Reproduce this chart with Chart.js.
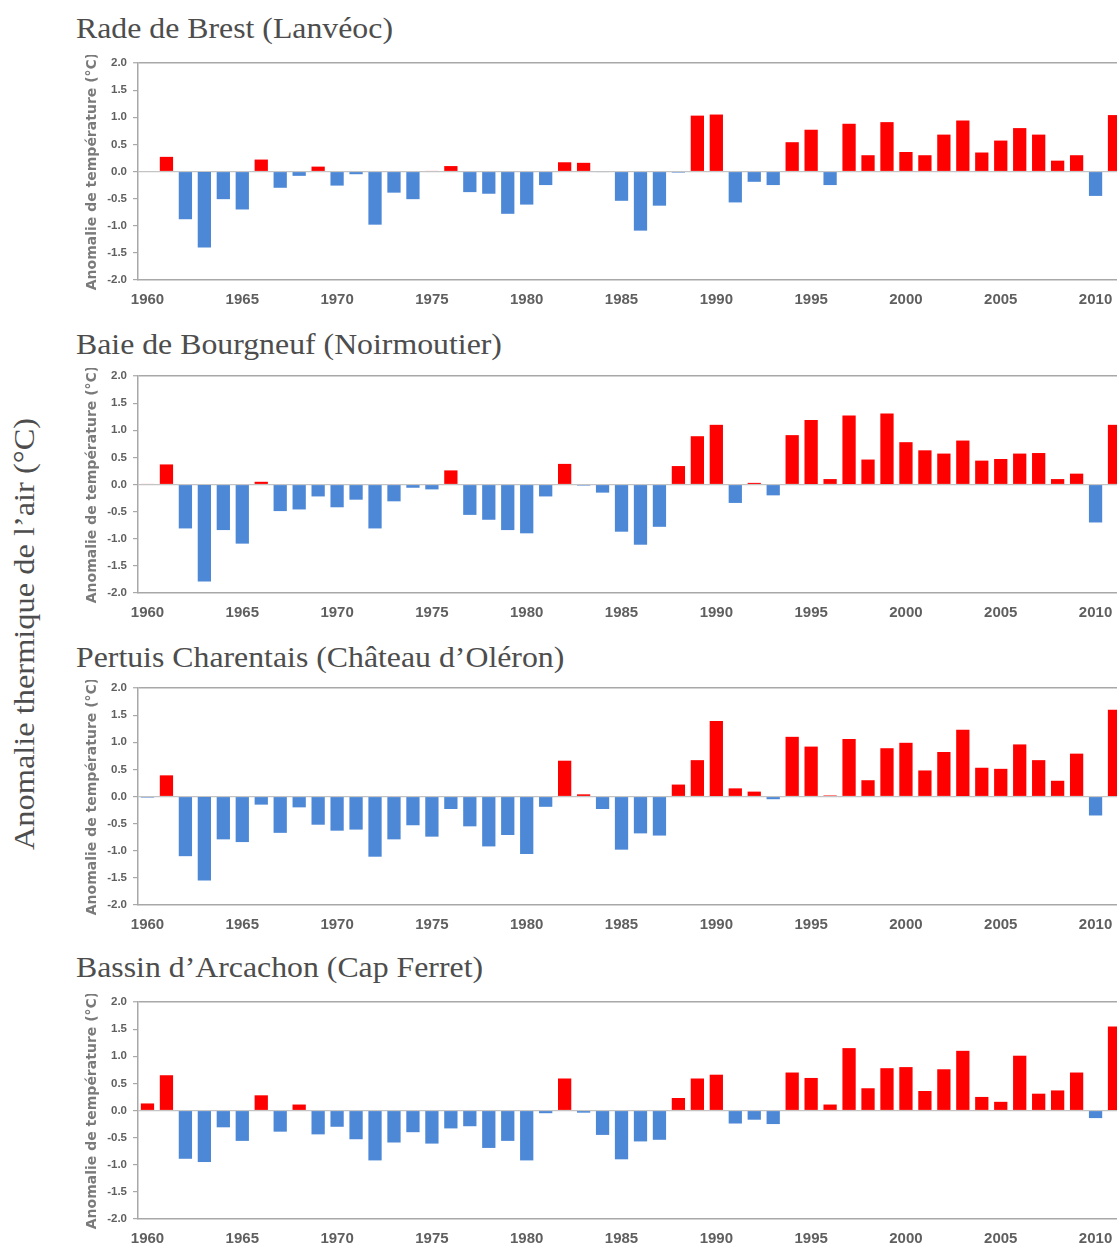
<!DOCTYPE html>
<html>
<head>
<meta charset="utf-8">
<script src="https://cdn.jsdelivr.net/npm/chart.js@4.4.1/dist/chart.umd.min.js"></script>
<style>
  html, body { margin: 0; padding: 0; background: #fff; }
  body { width: 1117px; height: 1245px; overflow: hidden; position: relative; }
  .title { position: absolute; left: 76px; font-family: "Liberation Serif", serif; font-size: 30px; color: #4d4d4d; white-space: nowrap; line-height: 34px; transform: scaleX(1.06); transform-origin: left center; }
  .panel { position: absolute; left: 80px; width: 1050px; height: 255px; }
  #bigLabel { position: absolute; left: 24px; top: 634px; transform: translate(-50%, -50%) rotate(-90deg) scaleX(1.08); font-family: "Liberation Serif", serif; font-size: 30px; color: #4d4d4d; white-space: nowrap; }
</style>
</head>
<body>
<div id="bigLabel">Anomalie thermique de l’air (°C)</div>
<div class="title" style="top:11px">Rade de Brest (Lanvéoc)</div>
<div class="title" style="top:327px">Baie de Bourgneuf (Noirmoutier)</div>
<div class="title" style="top:640px">Pertuis Charentais (Château d’Oléron)</div>
<div class="title" style="top:950px">Bassin d’Arcachon (Cap Ferret)</div>
<div class="panel" style="top:55px"><canvas id="c1"></canvas></div>
<div class="panel" style="top:368px"><canvas id="c2"></canvas></div>
<div class="panel" style="top:680px"><canvas id="c3"></canvas></div>
<div class="panel" style="top:994px"><canvas id="c4"></canvas></div>
<script>
  // années 1960 - 2011
  const years = [];
  for (let y = 1960; y <= 2011; y++) years.push(String(y));

  const yTicks = [-2.0, -1.5, -1.0, -0.5, 0.0, 0.5, 1.0, 1.5, 2.0];

  // Rade de Brest (Lanvéoc)
  const brest = [0.00, 0.27, -0.88, -1.40, -0.51, -0.70, 0.22, -0.30, -0.08, 0.09,
    -0.26, -0.05, -0.98, -0.39, -0.51, 0.01, 0.10, -0.38, -0.41, -0.78,
    -0.61, -0.25, 0.17, 0.16, -0.01, -0.54, -1.09, -0.63, -0.02, 1.03,
    1.05, -0.57, -0.19, -0.25, 0.54, 0.77, -0.25, 0.88, 0.30, 0.91,
    0.36, 0.30, 0.68, 0.94, 0.35, 0.57, 0.80, 0.68, 0.20, 0.30,
    -0.45, 1.04];

  // Baie de Bourgneuf (Noirmoutier)
  const bourgneuf = [0.01, 0.37, -0.81, -1.79, -0.84, -1.09, 0.05, -0.49, -0.46, -0.22,
    -0.42, -0.28, -0.81, -0.31, -0.06, -0.09, 0.26, -0.56, -0.65, -0.84,
    -0.90, -0.22, 0.38, -0.02, -0.15, -0.87, -1.11, -0.78, 0.34, 0.89,
    1.10, -0.34, 0.03, -0.20, 0.91, 1.19, 0.10, 1.27, 0.46, 1.31,
    0.78, 0.63, 0.57, 0.81, 0.44, 0.47, 0.57, 0.58, 0.10, 0.20,
    -0.70, 1.10];

  // Pertuis Charentais (Château d'Oléron)
  const charentais = [-0.02, 0.39, -1.10, -1.55, -0.79, -0.84, -0.15, -0.67, -0.20, -0.52,
    -0.63, -0.61, -1.11, -0.79, -0.53, -0.74, -0.23, -0.55, -0.92, -0.71,
    -1.06, -0.19, 0.66, 0.04, -0.23, -0.98, -0.68, -0.72, 0.22, 0.67,
    1.39, 0.15, 0.09, -0.05, 1.10, 0.92, 0.02, 1.06, 0.30, 0.89,
    0.99, 0.48, 0.82, 1.23, 0.53, 0.51, 0.96, 0.67, 0.29, 0.79,
    -0.35, 1.60];

  // Bassin d'Arcachon (Cap Ferret)
  const arcachon = [0.13, 0.65, -0.89, -0.95, -0.31, -0.56, 0.28, -0.39, 0.11, -0.44,
    -0.30, -0.53, -0.92, -0.59, -0.40, -0.61, -0.33, -0.29, -0.69, -0.56,
    -0.92, -0.05, 0.59, -0.04, -0.45, -0.90, -0.57, -0.54, 0.23, 0.59,
    0.66, -0.24, -0.17, -0.25, 0.70, 0.60, 0.11, 1.15, 0.41, 0.78,
    0.80, 0.36, 0.76, 1.10, 0.25, 0.16, 1.01, 0.31, 0.37, 0.70,
    -0.14, 1.55];

  const RED = '#ff0000';
  const BLUE = '#4d88d6';
  const FRAME = '#a8a8a8';
  const TEXT = '#5f5f5f';

  function makePanel(id, values) {
    return new Chart(document.getElementById(id), {
      type: 'bar',
      data: {
        labels: years,
        datasets: [{
          data: values,
          backgroundColor: values.map(v => v > 0 ? RED : BLUE),
          borderWidth: 0,
          barPercentage: 0.7,
          categoryPercentage: 1.0
        }]
      },
      options: {
        responsive: true,
        maintainAspectRatio: false,
        animation: false,
        layout: { padding: { top: 8, right: 6, left: 0, bottom: 0 } },
        plugins: { legend: { display: false }, tooltip: { enabled: false } },
        scales: {
          x: {
            grid: { display: false, drawTicks: false },
            border: { display: true, color: FRAME, width: 1.5 },
            afterFit: function(scale) { scale.height = 30; },
            ticks: {
              autoSkip: false,
              maxRotation: 0,
              padding: 11,
              color: TEXT,
              font: { family: 'Liberation Sans', size: 15, weight: 'bold' },
              callback: function(val, idx) {
                const y = Number(years[idx]);
                return y % 5 === 0 ? years[idx] : '';
              }
            }
          },
          y: {
            min: -2,
            max: 2,
            afterFit: function(scale) {
              scale.width = 58;
              scale.paddingTop = 0;
              scale.paddingBottom = 0;
            },
            afterBuildTicks: function(scale) {
              scale.ticks = yTicks.map(v => ({ value: v }));
            },
            border: { display: true, color: FRAME, width: 1.5 },
            grid: {
              drawTicks: true,
              tickLength: 5,
              tickColor: FRAME,
              tickWidth: 1.2,
              color: function(c) {
                if (c.tick.value === 2) return FRAME;
                if (c.tick.value === 0) return '#c4c4c4';
                return 'rgba(0,0,0,0)';
              },
              lineWidth: function(c) {
                return c.tick.value === 2 ? 1.5 : 1.2;
              }
            },
            ticks: {
              padding: 6,
              color: TEXT,
              font: { family: 'Liberation Sans', size: 11.5, weight: 'bold' },
              callback: function(v) { return Number(v).toFixed(1); }
            },
            title: {
              display: true,
              text: 'Anomalie de température (°C)',
              color: '#7a7a7a',
              padding: { top: 4, bottom: 0 },
              font: { family: 'DejaVu Sans', size: 14, weight: 'bold' }
            }
          }
        }
      }
    });
  }

  makePanel('c1', brest);
  makePanel('c2', bourgneuf);
  makePanel('c3', charentais);
  makePanel('c4', arcachon);
</script>
</body>
</html>
